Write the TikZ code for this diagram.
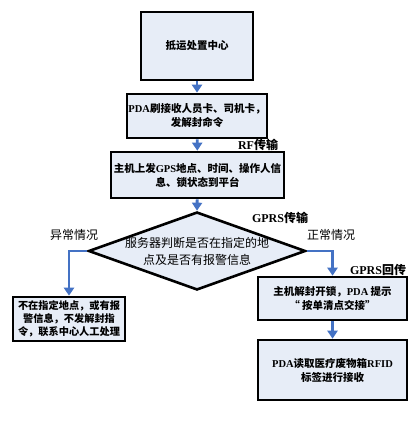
\documentclass[tikz,border=0pt]{standalone}
\usepackage{fontspec}
\setmainfont{Liberation Serif}
\newfontfamily\cjk{Noto Sans CJK SC}
\usepackage{tikz}
\usetikzlibrary{arrows.meta,positioning,shapes.geometric}
\definecolor{boxfill}{HTML}{E7EDF7}
\definecolor{flowblue}{HTML}{4472C4}
\newcommand\lat[1]{{\rmfamily\bfseries #1}}
\tikzset{
  step box/.style={rectangle,draw,line width=2.6pt,fill=boxfill,align=center,
    font=\cjk\bfseries\fontsize{10.5}{14}\selectfont,inner sep=0pt},
  flow/.style={draw=flowblue,line width=2.8pt,-{Triangle[width=10pt,length=8pt]}},
  tag/.style={font=\cjk\fontsize{12}{14}\selectfont}
}
\begin{document}
\begin{tikzpicture}[x=1pt,y=-1pt]
    \useasboundingbox (0,0) rectangle (419,425);

    \node(center)[step box,minimum width=112pt,minimum height=68pt] at (197,46) {抵运处置中心};
    \node(card)[step box,minimum width=140pt,minimum height=44pt] at (197,116)
        {\lat{PDA}刷接收人员卡、司机卡，\\发解封命令};
    \node(upload)[step box,minimum width=173pt,minimum height=46pt] at (197.5,175)
        {主机上发\lat{GPS}地点、时间、操作人信\\息、锁状态到平台};
    \node(judge)[diamond,draw,line width=2.6pt,fill=boxfill,inner sep=0pt,
        minimum width=217pt,minimum height=78pt] at (197,251) {};
    \node(judgetext)[tag,align=center,font=\cjk\fontsize{12}{17}\selectfont] at (judge) {服务器判断是否在指定的地\\点及是否有报警信息};
    \node(refuse)[step box,minimum width=112pt,minimum height=44pt,
        font=\cjk\bfseries\fontsize{10.2}{13}\selectfont] at (69,319)
        {不在指定地点，或有报\\警信息，不发解封指\\令，联系中心人工处理};
    \node(unlock)[step box,minimum width=149pt,minimum height=43pt] at (332.5,298.5)
        {主机解封开锁，\lat{PDA} 提示\\“ 按单清点交接”};
    \node(receive)[step box,minimum width=149pt,minimum height=60pt] at (332.5,370)
        {\lat{PDA}读取医疗废物箱\lat{RFID}\\标签进行接收};

    % connectors
    \draw[flow] (center) -- (card);
    \draw[flow] (card) -- (upload);
    \draw[flow] (upload) -- (judge.north);
    \draw[flow] (judge.west) -| (refuse.north);
    \draw[flow] (judge.east) -| (unlock.north);
    \draw[flow] (unlock) -- (receive);

    % labels
    \node(rf)[tag] at (258,145) {\lat{RF}\bfseries 传输};
    \node(gprsup)[tag] at (280,218) {\lat{GPRS}\bfseries 传输};
    \node(abnormal)[tag] at (74,235) {异常情况};
    \node(normal)[tag] at (331,235) {正常情况};
    \node(gprsback)[tag] at (378,270) {\lat{GPRS}\bfseries 回传};

\end{tikzpicture}
\end{document}
